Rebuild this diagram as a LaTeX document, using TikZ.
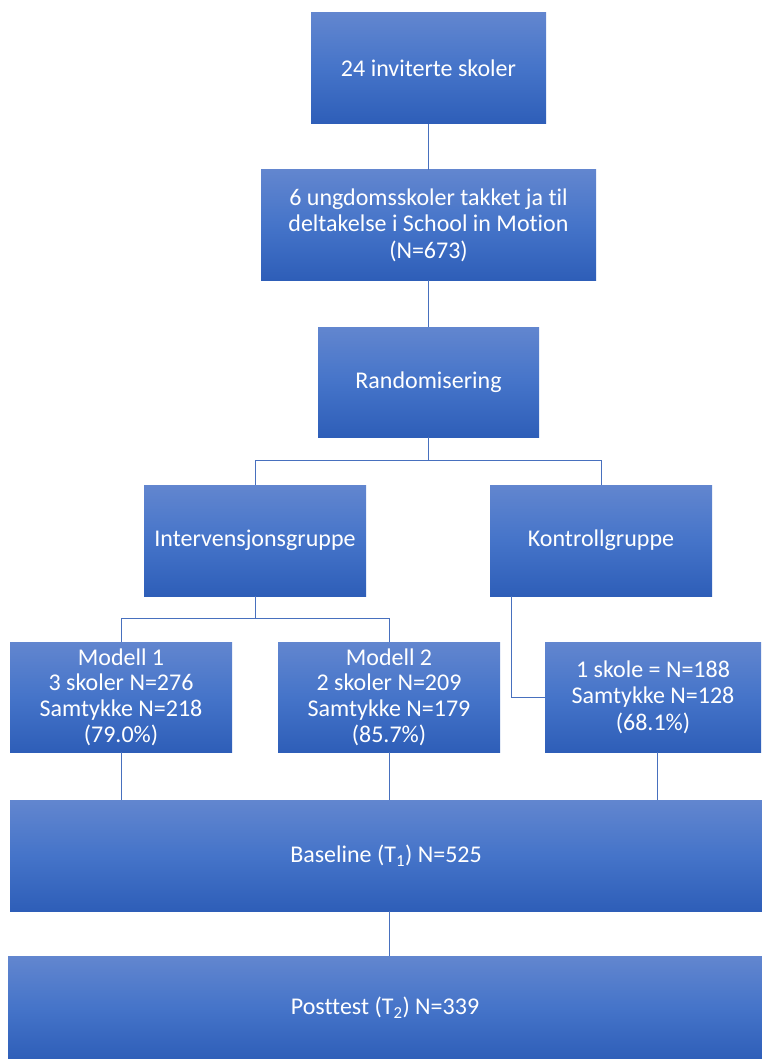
\documentclass[tikz,border=0pt]{standalone}
\usepackage{fontspec}
\setmainfont{Carlito}[Ligatures={NoCommon}]
\usetikzlibrary{calc,positioning}
\definecolor{boxtop}{RGB}{98,134,207}
\definecolor{boxmid}{RGB}{69,116,201}
\definecolor{boxbot}{RGB}{46,94,184}
\definecolor{linkblue}{RGB}{72,112,190}
\tikzset{
  flowbox/.style={rectangle, inner sep=2pt, align=center, text=white,
    top color=boxtop, bottom color=boxbot, middle color=boxmid,
    font=\fontsize{24}{26.5}\selectfont},
  link/.style={draw=linkblue, line width=1pt}
}
\begin{document}
\begin{tikzpicture}[x=1pt, y=-1pt]
	%%%%% FRAME %%%%%
	\useasboundingbox (0, 0) rectangle (762, 1059);
	
	%%%%% BOXES %%%%%
	\node[flowbox, minimum width=235pt, minimum height=111pt] (invited) at (428.5, 68.5) {24 inviterte skoler};
	\node[flowbox, minimum width=335pt, minimum height=110pt] (accepted) at (428.5, 225) {6 ungdomsskoler takket ja til\\deltakelse i School in Motion\\(N=673)};
	\node[flowbox, minimum width=221pt, minimum height=110pt] (random) at (428.5, 382) {Randomisering};
	
	\node[flowbox, minimum width=222pt, minimum height=111pt] (interv) at (255, 540.5) {Intervensjonsgruppe};
	\node[flowbox, minimum width=222pt, minimum height=111pt] (control) at (601, 540.5) {Kontrollgruppe};
	
	\node[flowbox, minimum width=222pt, minimum height=110pt, font=\fontsize{24}{25.7}\selectfont] (model1) at (121, 697) {Modell 1\\3 skoler N=276\\Samtykke N=218\\(79.0\%)};
	\node[flowbox, minimum width=222pt, minimum height=110pt, font=\fontsize{24}{25.7}\selectfont] (model2) at (389, 697) {Modell 2\\2 skoler N=209\\Samtykke N=179\\(85.7\%)};
	\node[flowbox, minimum width=216pt, minimum height=110pt] (ctrlschool) at (653, 697) {1 skole = N=188\\Samtykke N=128\\(68.1\%)};
	
	\node[flowbox, minimum width=752pt, minimum height=111pt] (baseline) at (386, 855.5) {Baseline (T\textsubscript{1}) N=525};
	\node[flowbox, minimum width=754pt, minimum height=104pt] (posttest) at (385, 1008) {Posttest (T\textsubscript{2}) N=339};
	
	%%%%% LINKS %%%%%
	\draw[link] (invited) -- (accepted);
	\draw[link] (accepted) -- (random);
	
	\coordinate (split1) at ($(random.south)+(0, 23)$);
	\draw[link] (random.south) -- (split1) -| (interv.north);
	\draw[link] (split1) -| (control.north);
	
	\coordinate (split2) at ($(interv.south)+(0, 22)$);
	\draw[link] (interv.south) -- (split2) -| (model1.north);
	\draw[link] (split2) -| (model2.north);
	
	\coordinate (ctrldrop) at ($(control.south west)+(22, 0)$);
	\draw[link] (ctrldrop) |- (ctrlschool.west);
	
	\draw[link] (model1.south) -- (model1.south |- baseline.north);
	\draw[link] (model2.south) -- (model2.south |- baseline.north);
	\draw[link] ([xshift=4pt]ctrlschool.south) -- ([xshift=4pt]ctrlschool.south |- baseline.north);
	\draw[link] (baseline.south -| model2.south) -- (posttest.north -| model2.south);
\end{tikzpicture}
\end{document}
